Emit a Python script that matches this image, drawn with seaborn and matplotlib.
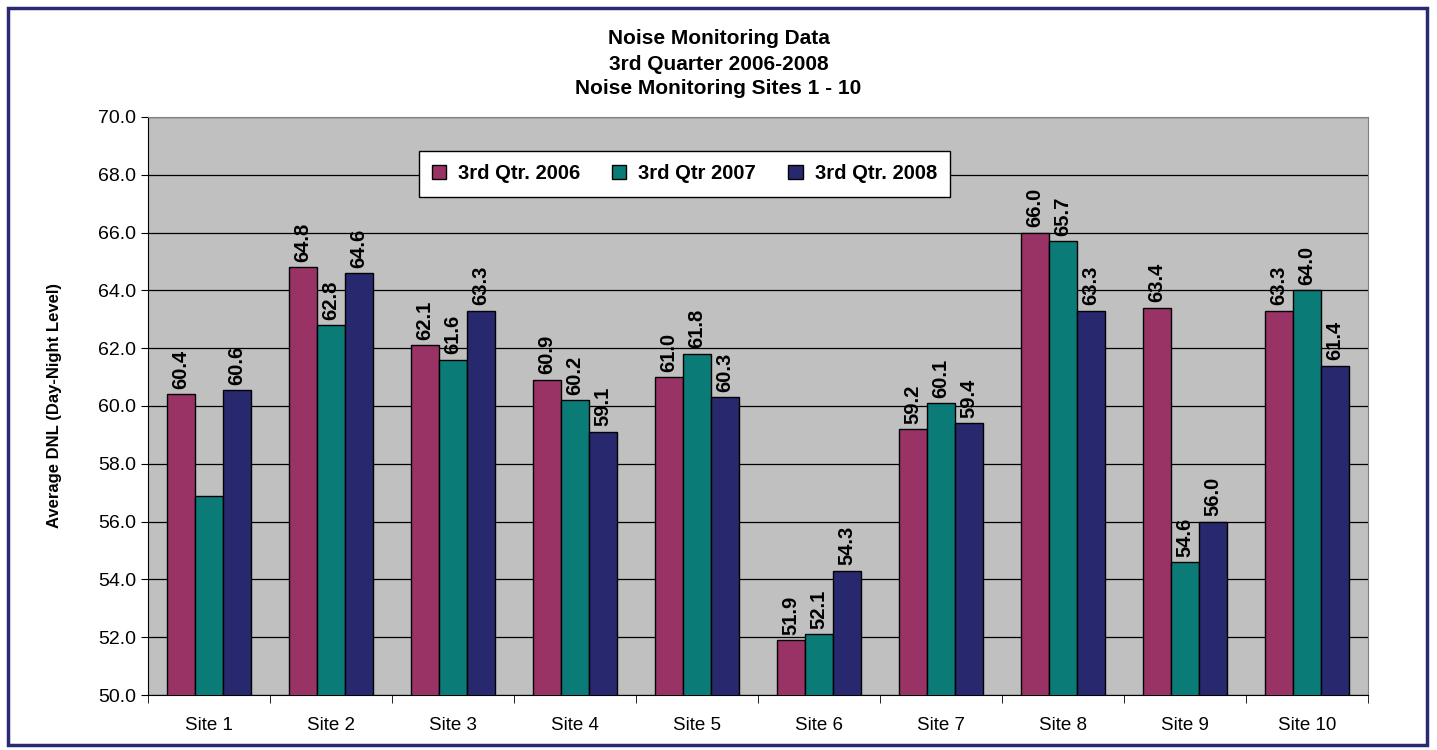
import matplotlib
matplotlib.use("Agg")
import matplotlib.pyplot as plt
from matplotlib.patches import Rectangle
import pandas as pd
import seaborn as sns

# values
sites = ["Site 1", "Site 2", "Site 3", "Site 4", "Site 5",
         "Site 6", "Site 7", "Site 8", "Site 9", "Site 10"]
q3_2006 = [60.4, 64.8, 62.1, 60.9, 61.0, 51.9, 59.2, 66.0, 63.4, 63.3]
q3_2007 = [56.9, 62.8, 61.6, 60.2, 61.8, 52.1, 60.1, 65.7, 54.6, 64.0]
q3_2008 = [60.55, 64.6, 63.3, 59.1, 60.3, 54.3, 59.4, 63.3, 56.0, 61.4]
labels_2006 = ["60.4", "64.8", "62.1", "60.9", "61.0", "51.9", "59.2", "66.0", "63.4", "63.3"]
labels_2007 = ["", "62.8", "61.6", "60.2", "61.8", "52.1", "60.1", "65.7", "54.6", "64.0"]
labels_2008 = ["60.6", "64.6", "63.3", "59.1", "60.3", "54.3", "59.4", "63.3", "56.0", "61.4"]
series = ["3rd Qtr. 2006", "3rd Qtr 2007", "3rd Qtr. 2008"]
colors = ["#993366", "#0B7B78", "#28286E"]

df = pd.DataFrame({
    "site": sites * 3,
    "value": q3_2006 + q3_2007 + q3_2008,
    "series": [series[0]] * 10 + [series[1]] * 10 + [series[2]] * 10,
})

plt.rcParams["font.family"] = ["Liberation Sans", "DejaVu Sans"]

fig = plt.figure(figsize=(14.37, 7.5), dpi=100)
ax = fig.add_axes([148 / 1437, 1 - 695 / 750, 1220 / 1437, 578 / 750])
ax.set_facecolor("#C0C0C0")

sns.barplot(data=df, x="site", y="value", hue="series", palette=colors,
            width=0.69, gap=0, edgecolor="black", linewidth=1,
            saturation=1, ax=ax, zorder=3)

ax.set_ylim(50, 70)
ax.set_yticks([50 + 2 * i for i in range(11)])
ax.set_yticklabels([f"{50 + 2 * i:.1f}" for i in range(11)], fontsize=14)
ax.yaxis.grid(True, color="black", linewidth=0.9, zorder=0)
ax.set_axisbelow(True)
ax.set_xlim(-0.5, 9.5)
ax.tick_params(axis="x", length=0, labelsize=13.5, pad=16)
ax.set_xticks(range(10), sites)
ax.set_xticks([i - 0.5 for i in range(11)], minor=True)
ax.tick_params(axis="x", which="minor", length=6, direction="out", color="black")
ax.tick_params(axis="y", length=5, direction="out")
ax.set_xlabel("")
ax.set_ylabel("Average DNL (Day-Night Level)", fontsize=12, fontweight="bold", labelpad=26)
for s in ["top", "right"]:
    ax.spines[s].set_color("#808080")
for s in ["left", "bottom"]:
    ax.spines[s].set_color("black")

for cont, labs in zip(ax.containers, [labels_2006, labels_2007, labels_2008]):
    ax.bar_label(cont, labels=labs, rotation=90, padding=4,
                 fontsize=14.5, fontweight="bold")

handles, lbls = ax.get_legend_handles_labels()
ax.legend(handles, lbls, ncol=3, loc="upper left", bbox_to_anchor=(0.2135, 0.958),
          frameon=True, fancybox=False, edgecolor="black", framealpha=1,
          prop={"weight": "bold", "size": 14.5}, handlelength=0.7, handleheight=0.7,
          columnspacing=1.6, handletextpad=0.6, borderpad=0.65)

fig.text(0.5, 1 - 64 / 750, "Noise Monitoring Data\n3rd Quarter 2006-2008\nNoise Monitoring Sites 1 - 10",
         ha="center", va="center", fontsize=15, fontweight="bold", linespacing=1.4)

fig.patches.append(Rectangle((8 / 1437, 5 / 750), 1419 / 1437, 737 / 750,
                             transform=fig.transFigure, fill=False,
                             edgecolor="#2A2A72", linewidth=2.5))

fig.savefig("out.png", dpi=100)
